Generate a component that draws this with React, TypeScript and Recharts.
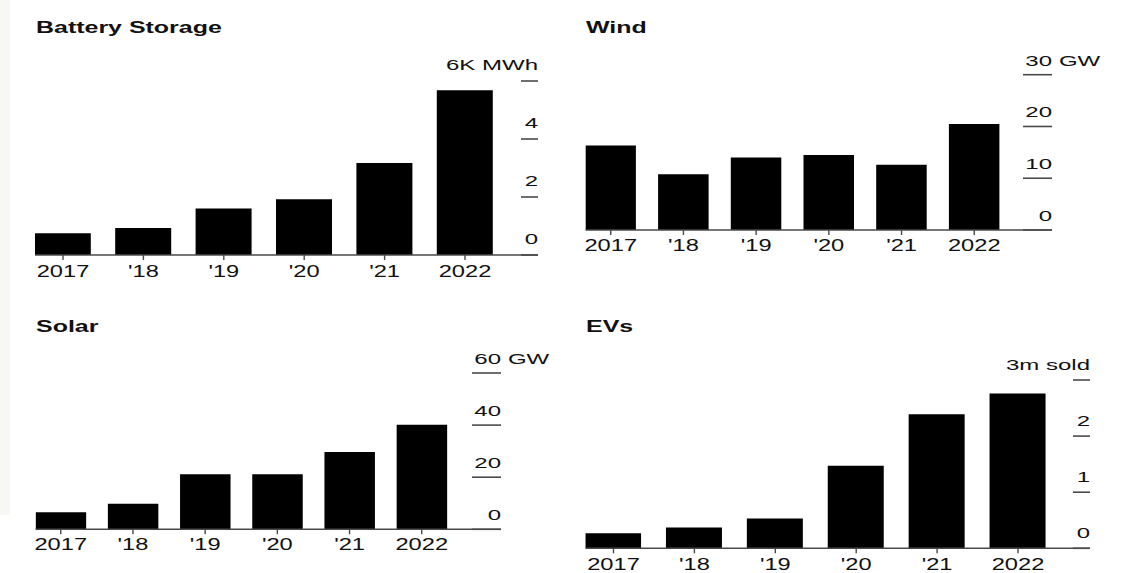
import { Bar, BarChart, XAxis, YAxis } from "recharts";

const years = ["2017", "'18", "'19", "'20", "'21", "2022"];

// annual additions
const batteryStorage = [0.75, 0.93, 1.6, 1.92, 3.17, 5.68]; // thousand MWh
const wind = [16.3, 10.75, 14.0, 14.5, 12.6, 20.5]; // GW
const solar = [6.5, 9.8, 21.1, 21.1, 29.7, 40.1]; // GW
const evs = [0.27, 0.37, 0.53, 1.47, 2.39, 2.76]; // million sold

const batteryTicks = [0, 2, 4, 6];
const windTicks = [0, 10, 20, 30];
const solarTicks = [0, 20, 40, 60];
const evTicks = [0, 1, 2, 3];

const PAGE_W = 1133;
const PAGE_H = 573;
const FONT = "'Liberation Sans', Arial, Helvetica, sans-serif";
const INK = "#111";
const RULE = "#4a4a4a";
const X_AXIS_H = 30;

// the type is set wide: stretch glyphs horizontally
const TITLE_STRETCH = 1.56;
const YEAR_STRETCH = 1.48;
const VALUE_STRETCH = 1.55;

type Layout = {
  titleX: number;
  titleY: number;
  barLeft: number; // left edge of first bar
  barRight: number; // right edge of last bar
  axisX: number; // right end of the baseline / value ticks
  top: number;
  base: number;
  barSize: number;
  tickLen: number;
  labelGap: number;
  yearDy: number;
};

type PanelProps = {
  title: string;
  values: number[];
  ticks: number[];
  topLabel: string;
  suffix?: string;
  layout: Layout;
};

type TickProps = { x?: number; y?: number; payload?: { value: number } };

function YearTick({ x = 0, y = 0, payload, dy }: TickProps & { dy: number }) {
  return (
    <text
      transform={`translate(${x},${y + dy}) scale(${YEAR_STRETCH},1)`}
      textAnchor="middle"
      fontSize={16}
      fontFamily={FONT}
      fill={INK}
    >
      {years[payload?.value ?? 0]}
    </text>
  );
}

function ValueTick({
  x = 0,
  y = 0,
  payload,
  tickLen,
  gap,
  top,
  topLabel,
  suffix,
}: TickProps & { tickLen: number; gap: number; top: number; topLabel: string; suffix?: string }) {
  const v = payload?.value ?? 0;
  const isTop = v === top;
  return (
    <g>
      <line x1={x - tickLen} x2={x} y1={y} y2={y} stroke={RULE} strokeWidth={1.6} />
      <g
        transform={`translate(${x},${y - gap}) scale(${VALUE_STRETCH},1)`}
        fontFamily={FONT}
        fontSize={15.5}
        fill={INK}
      >
        <text textAnchor="end">{isTop ? topLabel : String(v)}</text>
        {isTop && suffix ? (
          <text x={4.5} textAnchor="start">
            {suffix}
          </text>
        ) : null}
      </g>
    </g>
  );
}

function Panel({ values, ticks, topLabel, suffix, layout }: PanelProps) {
  const data = years.map((year, i) => ({ i, year, v: values[i] }));
  const { barLeft, barRight, axisX, top, base, barSize } = layout;
  const step = (barRight - barLeft - barSize) / (years.length - 1);
  const center0 = barLeft + barSize / 2;
  const xDomain = [-barSize / 2 / step, (axisX - center0) / step];
  const yAxisW = 10;
  const maxTick = ticks[ticks.length - 1];

  return (
    <div style={{ position: "absolute", left: 0, top: 0 }}>
      <BarChart
        width={PAGE_W}
        height={PAGE_H}
        data={data}
        margin={{
          left: barLeft,
          top,
          right: PAGE_W - axisX - yAxisW,
          bottom: PAGE_H - base - X_AXIS_H,
        }}
        style={{ overflow: "visible" }}
      >
        <XAxis
          dataKey="i"
          type="number"
          domain={xDomain}
          allowDataOverflow
          ticks={years.map((_, i) => i)}
          interval={0}
          height={X_AXIS_H}
          tickSize={5}
          tickMargin={0}
          axisLine={{ stroke: RULE, strokeWidth: 1.6 }}
          tickLine={{ stroke: RULE, strokeWidth: 1.4 }}
          tick={(p: TickProps) => <YearTick {...p} dy={layout.yearDy} />}
        />
        <YAxis
          orientation="right"
          domain={[0, maxTick]}
          ticks={ticks}
          interval={0}
          width={yAxisW}
          axisLine={false}
          tickLine={false}
          tickSize={0}
          tickMargin={0}
          tick={(p: TickProps) => (
            <ValueTick
              {...p}
              tickLen={layout.tickLen}
              gap={layout.labelGap}
              top={maxTick}
              topLabel={topLabel}
              suffix={suffix}
            />
          )}
        />
        <Bar dataKey="v" fill="#000" barSize={barSize} isAnimationActive={false} />
      </BarChart>
    </div>
  );
}

const panels: PanelProps[] = [
  {
    title: "Battery Storage",
    values: batteryStorage,
    ticks: batteryTicks,
    topLabel: "6K MWh",
    layout: {
      titleX: 36, titleY: 33, barLeft: 35, barRight: 493, axisX: 538, top: 81, base: 255,
      barSize: 56, tickLen: 17, labelGap: 11, yearDy: 16.5,
    },
  },
  {
    title: "Wind",
    values: wind,
    ticks: windTicks,
    topLabel: "30",
    suffix: "GW",
    layout: {
      titleX: 586, titleY: 32.5, barLeft: 585.5, barRight: 999.5, axisX: 1052, top: 74.7, base: 230,
      barSize: 50.5, tickLen: 29, labelGap: 9, yearDy: 15.5,
    },
  },
  {
    title: "Solar",
    values: solar,
    ticks: solarTicks,
    topLabel: "60",
    suffix: "GW",
    layout: {
      titleX: 36, titleY: 331.5, barLeft: 35.5, barRight: 447, axisX: 501, top: 373, base: 529.3,
      barSize: 50.5, tickLen: 29, labelGap: 9, yearDy: 15.5,
    },
  },
  {
    title: "EVs",
    values: evs,
    ticks: evTicks,
    topLabel: "3m sold",
    layout: {
      titleX: 586, titleY: 331.5, barLeft: 585.5, barRight: 1046, axisX: 1090, top: 380, base: 548.3,
      barSize: 56, tickLen: 17, labelGap: 10, yearDy: 16.5,
    },
  },
];

export default function App() {
  return (
    <div
      style={{
        position: "absolute",
        left: 0,
        top: 0,
        width: PAGE_W,
        height: PAGE_H,
        background: "#fff",
        overflow: "hidden",
      }}
    >
      <div style={{ position: "absolute", left: 0, top: 0, width: 10, height: 515, background: "#f7f7f4" }} />
      {panels.map((p) => (
        <Panel key={p.title} {...p} />
      ))}
      <svg
        width={PAGE_W}
        height={PAGE_H}
        style={{ position: "absolute", left: 0, top: 0, pointerEvents: "none" }}
      >
        {panels.map((p) => (
          <text
            key={p.title}
            transform={`translate(${p.layout.titleX},${p.layout.titleY}) scale(${TITLE_STRETCH},1)`}
            fontFamily={FONT}
            fontWeight={700}
            fontSize={16}
            fill={INK}
          >
            {p.title}
          </text>
        ))}
      </svg>
    </div>
  );
}
